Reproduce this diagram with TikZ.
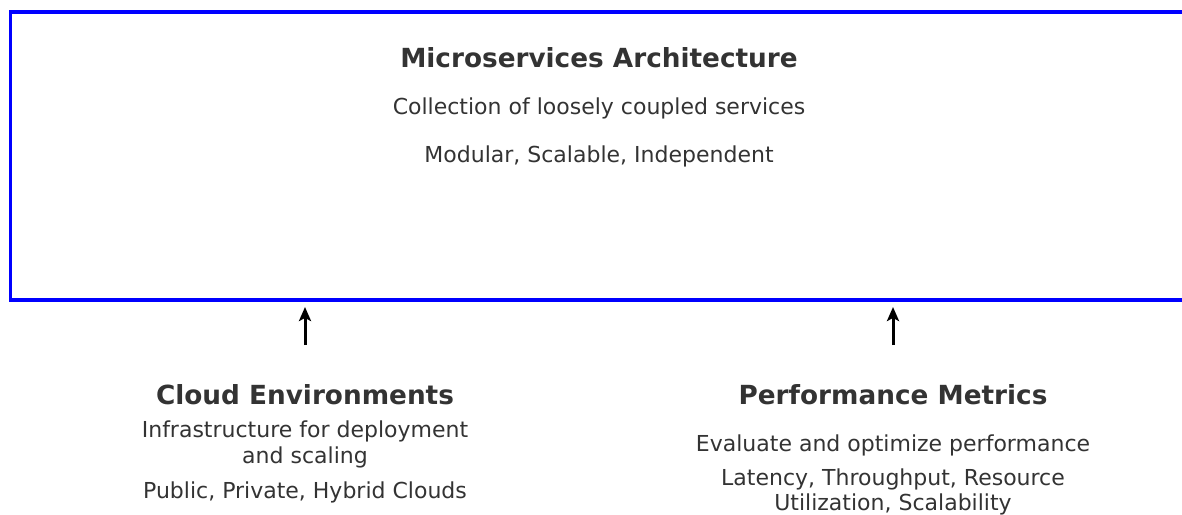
\documentclass[tikz,border=0pt]{standalone}
\usepackage{fontspec}
\setmainfont{DejaVu Sans}
\usetikzlibrary{arrows.meta}
\definecolor{txtgray}{HTML}{333333}

\begin{document}
\begin{tikzpicture}[
        x=1pt,y=-1pt,
        every node/.style={text=txtgray,align=center},
        heading/.style={font=\fontsize{26.3}{30}\selectfont\bfseries},
        body/.style={font=\fontsize{22}{26}\selectfont},
        arr/.style={-{Stealth[length=14pt,width=12pt,inset=3pt]},line width=3pt,black}
      ]
      \useasboundingbox (0,0) rectangle (1182,514);
      % Outer frame, runs past the right edge
      \node[draw=blue,line width=3.5pt,inner sep=0pt,outer sep=0pt,anchor=north west,
        minimum width=1200pt,minimum height=288pt] (arch) at (10.5,12) {};
      \node[heading] (archtitle) at (599,58) {Microservices Architecture};
      \node[body] (archdesc) at (599,108) {Collection of loosely coupled services};
      \node[body] (archprops) at (599,156) {Modular, Scalable, Independent};
      % Left column
      \node[heading] (cloud) at (305,395) {Cloud Environments};
      \node[body] (clouddesc) at (305,444) {Infrastructure for deployment\\and scaling};
      \node[body] (cloudprops) at (305,492) {Public, Private, Hybrid Clouds};
      % Right column
      \node[heading] (perf) at (893,395) {Performance Metrics};
      \node[body] (perfdesc) at (893,445) {Evaluate and optimize performance};
      \node[body,font=\fontsize{22}{25}\selectfont] (perfprops) at (893,492) {Latency, Throughput, Resource\\Utilization, Scalability};
      % Arrows up into the frame
      \coordinate (cloudtip) at (cloud.north |- arch.south);
      \coordinate (perftip) at (perf.north |- arch.south);
      \coordinate (cloudfoot) at ([yshift=-45pt]cloudtip);
      \coordinate (perffoot) at ([yshift=-45pt]perftip);
      \draw[arr,shorten >=7pt] (cloudfoot) -- (cloudtip);
      \draw[arr,shorten >=7pt] (perffoot) -- (perftip);
    \end{tikzpicture}
\end{document}
